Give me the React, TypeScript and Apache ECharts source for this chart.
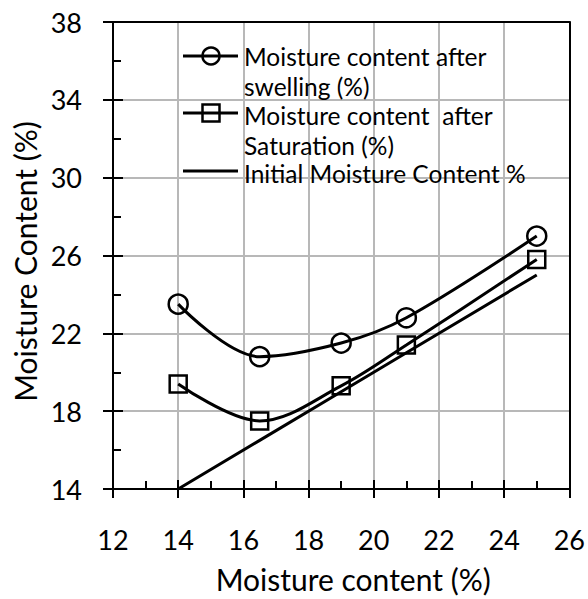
import React, { useEffect, useRef } from "react";
import * as echarts from "echarts";

const xValues = [14, 16.5, 19, 21, 25];
const swellingValues = [23.5, 20.8, 21.5, 22.8, 27.0];
const saturationValues = [19.4, 17.5, 19.3, 21.4, 25.8];
const initialValues = [14, 16.5, 19, 21, 25];
const seriesNames = [
  "Moisture content after swelling (%)",
  "Moisture content  after Saturation (%)",
  "Initial Moisture Content %",
];
const legendLines = [
  ["Moisture content after", "swelling (%)"],
  ["Moisture content  after", "Saturation (%)"],
  ["Initial Moisture Content %"],
];
const xTitle = "Moisture content (%)";
const yTitle = "Moisture Content (%)";

const FONT = "Lato, 'Liberation Sans', Arial, sans-serif";

export default function App() {
  const ref = useRef<HTMLDivElement>(null);
  useEffect(() => {
    if (!ref.current) return;
    const chart = echarts.init(ref.current, null, { renderer: "svg" });
    const pairs = (ys: number[]) => xValues.map((x, i) => [x, ys[i]]);
    const black = "#000";
    const gray = "#b8b8b8";
    const tickStyle = { color: black, width: 2 };
    const legendText = (text: string, y: number) => ({
      type: "text",
      x: 244,
      y,
      style: { text, fontSize: 24.5, fontFamily: FONT, fill: black, lineHeight: 23, verticalAlign: "middle", align: "left" },
      z: 10,
    });
    const rowY = [56, 113, 171];
    const lineY = [[56, 86], [115, 145], [173]];
    const graphic: any[] = [];
    rowY.forEach((y, i) => {
      graphic.push({ type: "line", shape: { x1: 183, y1: y, x2: 238, y2: y }, style: { stroke: black, lineWidth: 3 }, z: 10 });
      if (i === 0) {
        graphic.push({ type: "circle", shape: { cx: 211, cy: y, r: 8.5 }, style: { fill: "#fff", stroke: black, lineWidth: 2.5 }, z: 11 });
        graphic.push({ type: "line", shape: { x1: 202, y1: y, x2: 220, y2: y }, style: { stroke: black, lineWidth: 3 }, z: 12 });
      } else if (i === 1) {
        graphic.push({ type: "rect", shape: { x: 202.5, y: y - 8.5, width: 17, height: 17 }, style: { fill: "#fff", stroke: black, lineWidth: 2.5 }, z: 11 });
        graphic.push({ type: "line", shape: { x1: 202, y1: y, x2: 220, y2: y }, style: { stroke: black, lineWidth: 3 }, z: 12 });
      }
      legendLines[i].forEach((t, j) => graphic.push(legendText(t, lineY[i][j])));
    });
    const xBase = { type: "value", min: 12, max: 26, interval: 2 };
    const yBase = { type: "value", min: 14, max: 38, interval: 4 };
    chart.setOption({
      animation: false,
      backgroundColor: "#fff",
      grid: { left: 113, right: 18, top: 22, bottom: 108 },
      xAxis: [
        {
          ...xBase,
          position: "bottom",
          axisLine: { onZero: false, lineStyle: { color: black, width: 2 } },
          axisTick: { show: true, inside: false, length: 9, lineStyle: tickStyle },
          axisLabel: { margin: 37, color: black, fontSize: 27, fontFamily: FONT },
          splitLine: { show: true, lineStyle: { color: gray, width: 2 } },
          name: xTitle,
          nameLocation: "middle",
          nameGap: 75,
          nameTextStyle: { color: black, fontSize: 30, fontFamily: FONT, padding: [0, 0, 0, 24] },
        },
        {
          ...xBase,
          position: "bottom",
          axisLine: { show: false, onZero: false },
          axisTick: { show: true, inside: true, length: 9, lineStyle: tickStyle },
          minorTick: { show: true, splitNumber: 2, length: 8, lineStyle: tickStyle },
          axisLabel: { show: false },
          splitLine: { show: false },
        },
        {
          ...xBase,
          position: "top",
          axisLine: { show: true, onZero: false, lineStyle: { color: black, width: 2 } },
          axisTick: { show: false },
          axisLabel: { show: false },
          splitLine: { show: false },
        },
      ],
      yAxis: [
        {
          ...yBase,
          position: "left",
          axisLine: { show: true, onZero: false, lineStyle: { color: black, width: 2 } },
          axisTick: { show: true, inside: false, length: 10, lineStyle: tickStyle },
          axisLabel: { margin: 31, color: black, fontSize: 27, fontFamily: FONT },
          splitLine: { show: true, lineStyle: { color: gray, width: 2 } },
          name: yTitle,
          nameLocation: "middle",
          nameGap: 72,
          nameTextStyle: { color: black, fontSize: 30, fontFamily: FONT, padding: [0, 12, 0, 0] },
        },
        {
          ...yBase,
          position: "left",
          axisLine: { show: false, onZero: false },
          axisTick: { show: true, inside: true, length: 10, lineStyle: tickStyle },
          minorTick: { show: true, splitNumber: 2, length: 8, lineStyle: tickStyle },
          axisLabel: { show: false },
          splitLine: { show: false },
        },
        {
          ...yBase,
          position: "right",
          axisLine: { show: true, onZero: false, lineStyle: { color: black, width: 2 } },
          axisTick: { show: false },
          axisLabel: { show: false },
          splitLine: { show: false },
        },
      ],
      series: [
        {
          name: seriesNames[0],
          type: "line",
          data: pairs(swellingValues),
          smooth: 0.35,
          symbol: "circle",
          symbolSize: 19,
          lineStyle: { color: black, width: 3 },
          itemStyle: { color: "rgba(0,0,0,0)", borderColor: black, borderWidth: 2.5 },
        },
        {
          name: seriesNames[1],
          type: "line",
          data: pairs(saturationValues),
          smooth: 0.35,
          symbol: "rect",
          symbolSize: 17,
          lineStyle: { color: black, width: 3 },
          itemStyle: { color: "rgba(0,0,0,0)", borderColor: black, borderWidth: 2.5 },
        },
        {
          name: seriesNames[2],
          type: "line",
          data: pairs(initialValues),
          showSymbol: false,
          symbol: "none",
          lineStyle: { color: black, width: 3 },
        },
      ],
      graphic,
    });
    return () => chart.dispose();
  }, []);
  return <div ref={ref} style={{ width: 588, height: 599, position: "absolute", left: 0, top: 0 }} />;
}
